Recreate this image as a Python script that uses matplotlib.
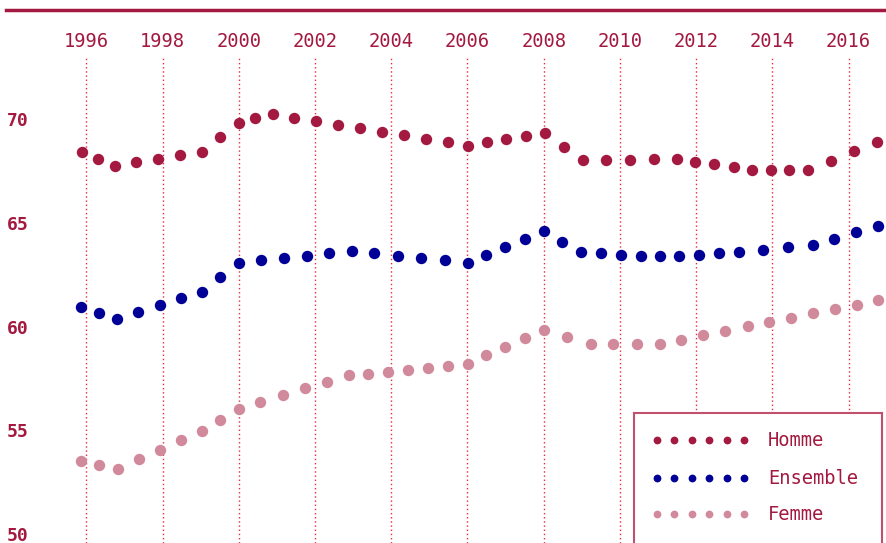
import numpy as np
import matplotlib
matplotlib.use("Agg")
import matplotlib.pyplot as plt
from matplotlib.lines import Line2D

# --- DATA ---
homme_x = [1995.89, 1996.31, 1996.75, 1997.30, 1997.88, 1998.46, 1999.03, 1999.51,
           2000.01, 2000.43, 2000.90, 2001.45, 2002.03, 2002.60, 2003.18, 2003.76,
           2004.34, 2004.91, 2005.49, 2006.01, 2006.51, 2007.01, 2007.54, 2008.03,
           2008.53, 2009.03, 2009.64, 2010.27, 2010.90, 2011.50, 2011.97, 2012.47,
           2012.99, 2013.47, 2013.97, 2014.44, 2014.94, 2015.54, 2016.14, 2016.75]
homme_y = [68.43, 68.09, 67.76, 67.92, 68.09, 68.27, 68.43, 69.15,
           69.83, 70.04, 70.25, 70.07, 69.91, 69.73, 69.57, 69.39,
           69.23, 69.06, 68.88, 68.72, 68.90, 69.04, 69.20, 69.35,
           68.67, 68.02, 68.03, 68.04, 68.08, 68.09, 67.93, 67.82,
           67.68, 67.53, 67.53, 67.53, 67.53, 68.00, 68.46, 68.91]

ensemble_x = [1995.86, 1996.33, 1996.80, 1997.36, 1997.93, 1998.48, 1999.03, 1999.51,
              2000.01, 2000.58, 2001.19, 2001.78, 2002.38, 2002.96, 2003.56, 2004.17,
              2004.79, 2005.40, 2006.01, 2006.49, 2006.99, 2007.50, 2008.00, 2008.49,
              2008.99, 2009.50, 2010.02, 2010.55, 2011.06, 2011.56, 2012.08, 2012.61,
              2013.13, 2013.76, 2014.41, 2015.07, 2015.62, 2016.19, 2016.77]
ensemble_y = [60.95, 60.64, 60.35, 60.69, 61.03, 61.36, 61.67, 62.39,
              63.08, 63.20, 63.31, 63.42, 63.55, 63.64, 63.53, 63.42,
              63.31, 63.20, 63.08, 63.47, 63.85, 64.22, 64.59, 64.08,
              63.58, 63.53, 63.47, 63.42, 63.39, 63.42, 63.47, 63.53,
              63.58, 63.69, 63.82, 63.95, 64.24, 64.55, 64.85]

femme_x = [1995.85, 1996.33, 1996.83, 1997.37, 1997.93, 1998.48, 1999.03, 1999.51,
           2000.00, 2000.56, 2001.15, 2001.73, 2002.31, 2002.88, 2003.39, 2003.92,
           2004.45, 2004.97, 2005.50, 2006.01, 2006.49, 2006.99, 2007.50, 2008.00,
           2008.60, 2009.23, 2009.83, 2010.44, 2011.05, 2011.61, 2012.19, 2012.77,
           2013.35, 2013.92, 2014.50, 2015.08, 2015.65, 2016.23, 2016.77]
femme_y = [53.52, 53.33, 53.15, 53.61, 54.05, 54.52, 54.96, 55.50,
           56.04, 56.38, 56.70, 57.03, 57.35, 57.65, 57.73, 57.81,
           57.91, 58.01, 58.10, 58.18, 58.63, 59.03, 59.45, 59.85,
           59.51, 59.16, 59.16, 59.16, 59.16, 59.37, 59.60, 59.79,
           60.02, 60.22, 60.43, 60.64, 60.85, 61.06, 61.27]

year_ticks = list(range(1996, 2017, 2))
value_ticks = [50, 55, 60, 65, 70]
series_names = ["Homme", "Ensemble", "Femme"]

# --- STYLE ---
CRIMSON = "#a3193f"
BLUE = "#000096"
PINK = "#d18a9c"
GRID = "#e62a40"
colors = [CRIMSON, BLUE, PINK]
MONO = "DejaVu Sans Mono"

W, H = 886, 543
fig = plt.figure(figsize=(W / 100, H / 100), dpi=100)
fig.patch.set_facecolor("white")

# axes placed so that 1 year ~ 38.1 px and 5 points ~ 104 px
left_px, top_px = 40, 58
ax = fig.add_axes([left_px / W, 0, (W - left_px) / W, (H - top_px) / H])
px_year, x0_px = 38.11, 467.45
ax.set_xlim(2006 + (left_px - x0_px) / px_year, 2006 + (W - x0_px) / px_year)
px_val, y0_px = 20.75, 326.62
ax.set_ylim(60 - (H - y0_px) / px_val, 60 + (y0_px - top_px) / px_val)

for xs, ys, c in zip([homme_x, ensemble_x, femme_x],
                     [homme_y, ensemble_y, femme_y], colors):
    ax.plot(xs, ys, linestyle="none", marker="o", markersize=8.2,
            markeredgewidth=0, color=c, zorder=3, clip_on=False)

for s in ax.spines.values():
    s.set_visible(False)

ax.xaxis.tick_top()
ax.set_xticks(year_ticks)
ax.set_xticklabels([str(y) for y in year_ticks])
ax.tick_params(axis="x", length=0, pad=5, labelsize=13.5, labelcolor=CRIMSON)
for t in ax.get_xticklabels():
    t.set_fontfamily(MONO)

ax.set_yticks(value_ticks)
ax.set_yticklabels([str(v) for v in value_ticks])
ax.tick_params(axis="y", length=0, pad=24, labelsize=13, labelcolor=CRIMSON)
for t in ax.get_yticklabels():
    t.set_fontfamily(MONO)
    t.set_fontweight("bold")
    t.set_horizontalalignment("left")

ax.grid(axis="x", color=GRID, linestyle=(0, (1, 2)), linewidth=1.0)
ax.grid(axis="y", visible=False)

# top rule
fig.add_artist(Line2D([6 / W, 1], [1 - 10 / H, 1 - 10 / H], color=CRIMSON,
                      linewidth=2.5, transform=fig.transFigure))

# legend box (bottom edge runs past the figure like in the reference)
lx0, lx1, ly0, ly1 = 634, 882, 412.5, 565
lax = fig.add_axes([lx0 / W, 1 - ly1 / H, (lx1 - lx0) / W, (ly1 - ly0) / H])
lax.set_xlim(lx0, lx1)
lax.set_ylim(ly1, ly0)
lax.set_xticks([])
lax.set_yticks([])
lax.set_facecolor("white")
for s in lax.spines.values():
    s.set_color("#c0506e")
    s.set_linewidth(1.5)

row_y = [440, 478, 514]
dot_x = np.linspace(657, 744, 6)
for name, c, ry in zip(series_names, colors, row_y):
    lax.plot(dot_x, [ry] * 6, linestyle="none", marker="o", markersize=5.6,
             markeredgewidth=0, color=c)
    lax.text(768, ry, name, color=CRIMSON, fontsize=13.5, family=MONO,
             ha="left", va="center")

fig.savefig("out.png", dpi=100)
